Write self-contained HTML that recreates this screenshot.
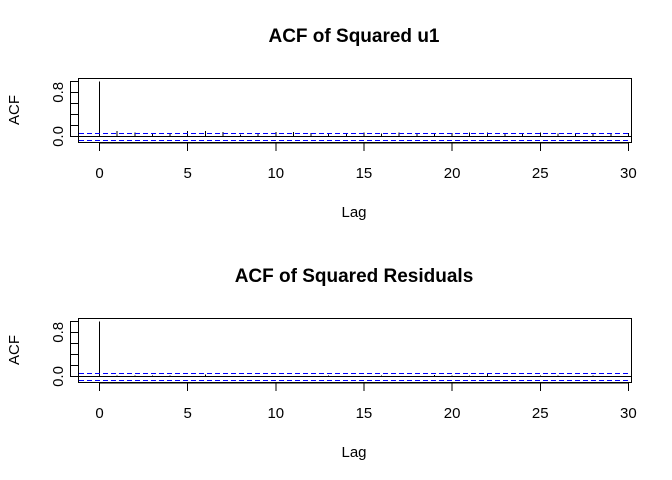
<!DOCTYPE html>
<html><head><meta charset="utf-8"><style>
body{margin:0;background:#fff}
svg{display:block;font-family:"Liberation Sans",Arial,sans-serif}
line,rect{shape-rendering:crispEdges}
</style></head><body>
<svg id="c" width="672" height="480" viewBox="0 0 672 480" xmlns="http://www.w3.org/2000/svg"></svg>
<script>
const lags = Array.from({length:31},(_,i)=>i);
const acfSquaredU1 = [1,0.10,0.07,0.06,0.05,0.10,0.10,0.08,0.04,0.05,0.08,0.08,0.06,0.05,0.06,0.07,0.05,0.07,0.05,0.05,0.06,0.07,0.07,0.05,0.05,0.07,0.05,0.05,0.05,0.06,0.06];
const acfSquaredResid = [1,0.02,0.02,0.02,0.02,0.01,0.04,0.01,0.01,0.01,0.01,0.01,0.01,0.02,0.01,0.01,0.02,0.01,0.01,0.03,0.02,0.02,0.05,0.01,0.01,0.02,0.02,0.01,0.02,0.01,0.01];
const xTicks = [0,5,10,15,20,25,30];
const yTicks = [0,0.2,0.4,0.6,0.8,1.0];
const yTickLabels = ["0.0","","","","0.8",""];
const ciBound = 0.065;
const titles = ["ACF of Squared u1","ACF of Squared Residuals"];
const series = [acfSquaredU1, acfSquaredResid];

const svg = document.getElementById('c');
const NS='http://www.w3.org/2000/svg';
function mk(tag, attrs, parent){const e=document.createElementNS(NS,tag);for(const k in attrs)e.setAttribute(k,attrs[k]);(parent||svg).appendChild(e);return e;}
const xs = v => 99.5 + v*17.63;

series.forEach((vals, p)=>{
  const off = p*240;
  const ys = v => off + 136.5 - v*55.2;
  const g = mk('g',{});
  
  
  const t = mk('text',{x:354,y:off+42,'text-anchor':'middle','font-size':'19','font-weight':'bold'},g);
  t.textContent = titles[p];
  
  
  const ya = mk('g',{},g);
  
  
  mk('line',{x1:70.5,x2:70.5,y1:ys(0),y2:ys(1),stroke:'#000'},ya);
  yTicks.forEach((v,i)=>{
    mk('line',{x1:70,x2:78,y1:ys(v),y2:ys(v),stroke:'#000'},ya);
    if(yTickLabels[i]){
      const tl = mk('text',{x:0,y:0,'font-size':'15','text-anchor':'middle',transform:`translate(63,${ys(v)}) rotate(-90)`},ya);
      tl.textContent = yTickLabels[i];
      
      
    }
  });
  const yl = mk('text',{x:0,y:0,'font-size':'15','text-anchor':'middle',transform:`translate(19,${off+110}) rotate(-90)`},g);
  yl.textContent='ACF';
  
  
  const xa = mk('g',{},g);
  
  
  mk('line',{x1:xs(0),x2:xs(30),y1:off+143,y2:off+143,stroke:'#000'},xa);
  xTicks.forEach(v=>{
    mk('line',{x1:xs(v),x2:xs(v),y1:off+143,y2:off+151,stroke:'#000'},xa);
    const tl = mk('text',{x:xs(v),y:off+178,'font-size':'15','text-anchor':'middle'},xa);
    tl.textContent = v;
    
    
  });
  const xl = mk('text',{x:354,y:off+217,'font-size':'15','text-anchor':'middle'},g);
  xl.textContent='Lag';
  
  
  lags.forEach((lag,i)=>{
    const s = mk('line',{x1:xs(lag),x2:xs(lag),y1:ys(0),y2:ys(vals[i]),stroke:'#000'},g);
    
    
  });
  const z = mk('line',{x1:79,x2:631,y1:ys(0),y2:ys(0),stroke:'#000'},g);
  
  
  [ciBound,-ciBound].forEach(b=>{
    const yy = Math.round(ys(b))+0.5;
    const l = mk('line',{x1:79,x2:631,y1:yy,y2:yy,stroke:'#0000ff','stroke-width':1,'stroke-dasharray':'5,3'},g);
    
    
  });
  const box = mk('rect',{x:78.5,y:off+78.5,width:553,height:64,fill:'none',stroke:'#000','stroke-width':1},g);
  
  
});
</script>
</body></html>
